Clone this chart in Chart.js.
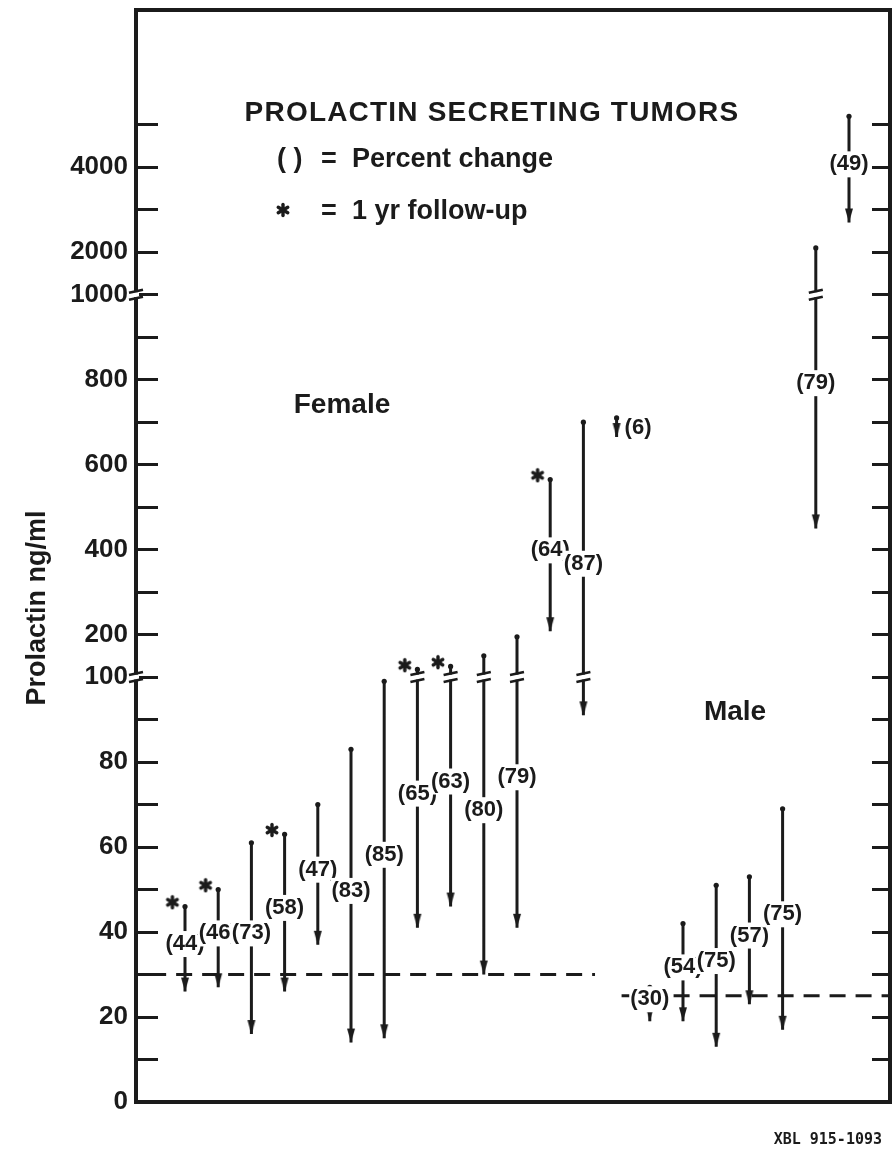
<!DOCTYPE html>
<html lang="en">
<head>
<meta charset="UTF-8">
<title>Prolactin secreting tumors</title>
<script src="https://cdn.jsdelivr.net/npm/chart.js@4.4.1/dist/chart.umd.min.js"></script>
<style>
  html, body { margin: 0; padding: 0; background: #fff; }
  #wrap { position: relative; width: 892px; height: 1154px; }
</style>
</head>
<body>
<div id="wrap"><canvas id="prolactinChart"></canvas></div>
<script>
// one entry per patient, left to right (ng/ml)
const sex       = ['F','F','F','F','F','F','F','F','F','F','F','F','F','F', 'M','M','M','M','M','M','M'];
const pctChange = [44, 46, 73, 58, 47, 83, 85, 65, 63, 80, 79, 64, 87, 6,   30, 54, 75, 57, 75, 79, 49];
const beforeVal = [46, 50, 61, 63, 70, 83, 99, 118, 125, 150, 195, 565, 700, 710,   27, 42, 51, 53, 69, 2100, 5200];
const afterVal  = [26, 27, 16, 26, 37, 14, 15, 41, 46, 30, 41, 208, 91, 665,   19, 19, 13, 23, 17, 450, 2700];
const oneYearFU = [1, 1, 0, 1, 0, 0, 0, 1, 1, 0, 0, 1, 0, 0,   0, 0, 0, 0, 0, 0, 0];

// upper limit of normal, dashed lines
const normalLimit = { F: 30, M: 25 };

// labelled ticks of the broken axis
const tickValues = [0, 20, 40, 60, 80, 100, 200, 400, 600, 800, 1000, 2000, 4000];
const axisBreaks = [100, 1000];

// broken y axis: 0-100 at 10 per unit, 100-1000 at 100 per unit, above 1000 at 1000 per unit
function toAxis(v) {
    if (v <= 100) return v / 10;
    if (v <= 1000) return 10 + (v - 100) / 100;
    return 19 + (v - 1000) / 1000;
}

const ink = '#1b1b1b';
const idx = sex.map((s, i) => i);
const first = s => sex.indexOf(s);
const last = s => sex.lastIndexOf(s);

function makeArrowHead() {
    // tip sits at the canvas centre so the point lands on the value
    const c = document.createElement('canvas');
    c.width = 10; c.height = 30;
    const g = c.getContext('2d');
    g.fillStyle = ink;
    g.beginPath();
    g.moveTo(1, 1);
    g.lineTo(9, 1);
    g.lineTo(5, 15);
    g.closePath();
    g.fill();
    return c;
}

function makeAsterisk() {
    const c = document.createElement('canvas');
    c.width = 16; c.height = 16;
    const g = c.getContext('2d');
    g.strokeStyle = ink;
    g.lineWidth = 3.4;
    g.lineCap = 'round';
    g.translate(8, 8);
    for (let k = 0; k < 3; k++) {
        g.beginPath();
        g.moveTo(0, -5.5);
        g.lineTo(0, 5.5);
        g.stroke();
        g.rotate(Math.PI / 3);
    }
    return c;
}

const arrowHead = makeArrowHead();
const asterisk = makeAsterisk();

function breakMark(ctx, x, y) {
    ctx.save();
    ctx.fillStyle = '#fff';
    ctx.fillRect(x - 3, y - 2.5, 6, 5);
    ctx.strokeStyle = ink;
    ctx.lineWidth = 2.6;
    ctx.beginPath();
    ctx.moveTo(x - 7, y - 2);
    ctx.lineTo(x + 7, y - 5);
    ctx.moveTo(x - 7, y + 5);
    ctx.lineTo(x + 7, y + 2);
    ctx.stroke();
    ctx.restore();
}

const annotate = {
    id: 'annotate',
    afterDatasetsDraw(chart) {
        const { ctx, chartArea, scales: { x, y } } = chart;

        // "//" marks where a line crosses an axis break
        idx.forEach(i => {
            axisBreaks.forEach(b => {
                if (beforeVal[i] > b && afterVal[i] < b) {
                    breakMark(ctx, x.getPixelForValue(i), y.getPixelForValue(toAxis(b)));
                }
            });
        });
        axisBreaks.forEach(b => breakMark(ctx, chartArea.left, y.getPixelForValue(toAxis(b))));

        // percent change labels
        ctx.save();
        ctx.font = 'bold 22px "Liberation Sans", Arial, sans-serif';
        ctx.textBaseline = 'middle';
        idx.forEach(i => {
            const px = x.getPixelForValue(i);
            const top = y.getPixelForValue(toAxis(beforeVal[i]));
            const bot = y.getPixelForValue(toAxis(afterVal[i]));
            const txt = '(' + pctChange[i] + ')';
            const w = ctx.measureText(txt).width;
            if (bot - top < 30) {
                ctx.textAlign = 'left';
                ctx.fillStyle = ink;
                ctx.fillText(txt, px + 8, (top + bot) / 2);
                return;
            }
            const cy = (top + bot) / 2 - 5;
            ctx.fillStyle = '#fff';
            ctx.fillRect(px - w / 2 - 1, cy - 13, w + 2, 26);
            ctx.textAlign = 'center';
            ctx.fillStyle = ink;
            ctx.fillText(txt, px, cy);
        });
        ctx.restore();
    },
    afterDraw(chart) {
        const ctx = chart.ctx;
        ctx.save();
        ctx.fillStyle = ink;
        ctx.textBaseline = 'middle';

        ctx.font = 'bold 28px "Liberation Sans", Arial, sans-serif';
        ctx.letterSpacing = '1.2px';
        ctx.textAlign = 'center';
        ctx.fillText('PROLACTIN SECRETING TUMORS', 492, 113);
        ctx.letterSpacing = '0px';

        ctx.font = 'bold 27px "Liberation Sans", Arial, sans-serif';
        ctx.textAlign = 'left';
        ctx.fillText('( )', 277, 160);
        ctx.fillText('Percent change', 352, 160);
        ctx.fillText('1 yr follow-up', 352, 212);
        ctx.textAlign = 'center';
        ctx.fillText('=', 329, 160);
        ctx.fillText('=', 329, 212);
        ctx.drawImage(asterisk, 283 - 8, 210 - 8);

        ctx.font = 'bold 28px "Liberation Sans", Arial, sans-serif';
        ctx.fillText('Female', 342, 405);
        ctx.fillText('Male', 735, 712);

        ctx.save();
        ctx.translate(38, 608);
        ctx.rotate(-Math.PI / 2);
        ctx.font = 'bold 27px "Liberation Sans", Arial, sans-serif';
        ctx.fillText('Prolactin ng/ml', 0, 0);
        ctx.restore();

        ctx.font = 'bold 15px "DejaVu Sans Mono", monospace';
        ctx.textAlign = 'right';
        ctx.fillText('XBL 915-1093', 882, 1140);
        ctx.restore();
    }
};

const unitTicks = scale => {
    scale.ticks = Array.from({ length: 24 }, (_, k) => ({ value: k }));
};

const xMin = -1.476, xMax = 21.235;

// vertical stems: one segment per patient, separated by gaps
const stems = [];
idx.forEach(i => {
    stems.push({ x: i, y: toAxis(beforeVal[i]) }, { x: i, y: toAxis(afterVal[i]) }, { x: i, y: null });
});

new Chart(document.getElementById('prolactinChart'), {
    type: 'scatter',
    data: {
        datasets: [
            {
                type: 'line',
                data: stems,
                borderColor: ink,
                borderWidth: 3,
                pointRadius: 0,
                spanGaps: false
            },
            {
                data: idx.map(i => ({ x: i, y: toAxis(beforeVal[i]) })),
                pointStyle: 'circle',
                pointRadius: 2.6,
                backgroundColor: ink,
                borderWidth: 0
            },
            {
                data: idx.map(i => ({ x: i, y: toAxis(afterVal[i]) })),
                pointStyle: arrowHead,
                pointRadius: 7
            },
            {
                data: idx.filter(i => oneYearFU[i]).map(i => ({ x: i - 0.38, y: toAxis(beforeVal[i]) + 0.1 })),
                pointStyle: asterisk,
                pointRadius: 7
            },
            {
                type: 'line',
                data: [{ x: first('F') - 1.05, y: toAxis(normalLimit.F) }, { x: last('F') - 0.65, y: toAxis(normalLimit.F) }],
                borderColor: ink,
                borderWidth: 3,
                borderDash: [16, 10],
                pointRadius: 0
            },
            {
                type: 'line',
                data: [{ x: first('M') - 0.85, y: toAxis(normalLimit.M) }, { x: xMax, y: toAxis(normalLimit.M) }],
                borderColor: ink,
                borderWidth: 3,
                borderDash: [16, 10],
                pointRadius: 0
            }
        ]
    },
    options: {
        responsive: true,
        maintainAspectRatio: false,
        animation: false,
        events: [],
        layout: { padding: 0, autoPadding: false },
        plugins: { legend: { display: false }, tooltip: { enabled: false } },
        scales: {
            x: {
                type: 'linear', position: 'bottom', min: xMin, max: xMax,
                ticks: { display: false },
                grid: { display: false },
                border: { display: true, width: 4, color: ink },
                afterFit: s => { s.height = 52; s.paddingLeft = 0; s.paddingRight = 0; }
            },
            xTop: {
                type: 'linear', position: 'top', min: xMin, max: xMax,
                ticks: { display: false },
                grid: { display: false },
                border: { display: true, width: 4, color: ink },
                afterFit: s => { s.height = 10; s.paddingLeft = 0; s.paddingRight = 0; }
            },
            y: {
                type: 'linear', position: 'left', min: 0, max: 25.7,
                afterBuildTicks: unitTicks,
                ticks: {
                    autoSkip: false,
                    padding: 30,
                    color: ink,
                    font: { family: '"Liberation Sans", Arial, sans-serif', size: 26, weight: 'bold' },
                    callback: value => {
                        const hit = tickValues.find(v => Math.abs(toAxis(v) - value) < 1e-6);
                        return hit === undefined ? '' : String(hit);
                    }
                },
                grid: { drawOnChartArea: false, drawTicks: true, tickLength: -22, lineWidth: 3, color: ink },
                border: { display: true, width: 4, color: ink },
                afterFit: s => { s.width = 136; s.paddingTop = 0; s.paddingBottom = 0; }
            },
            yRight: {
                type: 'linear', position: 'right', min: 0, max: 25.7,
                afterBuildTicks: unitTicks,
                ticks: { display: false },
                grid: { drawOnChartArea: false, drawTicks: true, tickLength: -18, lineWidth: 3, color: ink },
                border: { display: true, width: 4, color: ink },
                afterFit: s => { s.width = 2; s.paddingTop = 0; s.paddingBottom = 0; }
            }
        }
    },
    plugins: [annotate]
});
</script>
</body>
</html>
